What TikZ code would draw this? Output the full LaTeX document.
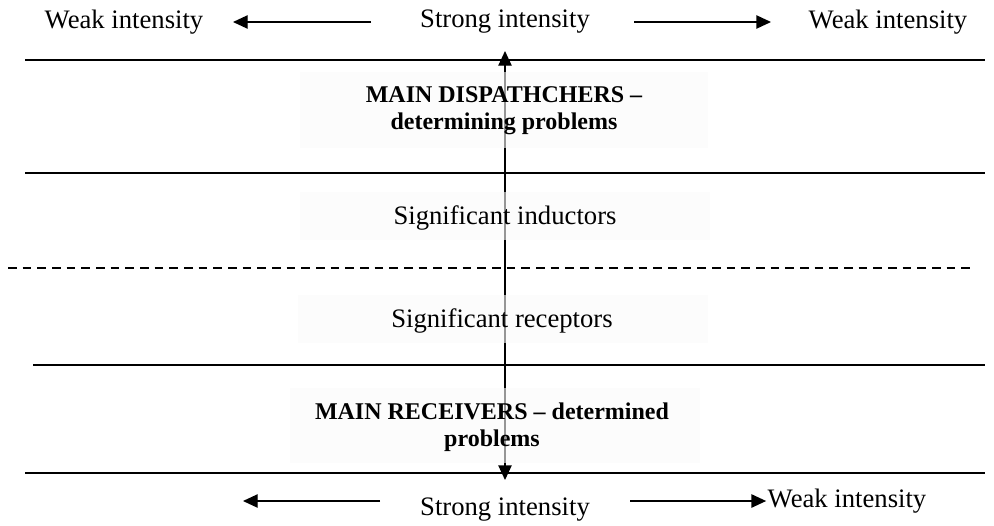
\documentclass[tikz,border=0pt]{standalone}
\usepackage{fontspec}
\setmainfont{Liberation Serif}
\usetikzlibrary{arrows.meta}
\tikzset{
	lbl/.style={inner sep=1pt, font=\fontsize{20}{22.5}\selectfont},
	lblb/.style={inner sep=1pt, align=center, font=\fontsize{18}{20}\selectfont\bfseries},
	band/.style={fill=black!2, fill opacity=0.6, draw=none},
	sep/.style={line width=1.2pt},
	sepd/.style={line width=0.9pt, dash pattern=on 6.5pt off 4.5pt},
	intens/.style={-{Triangle[length=11pt,width=10pt]}, line width=1pt},
	axis/.style={{Triangle[length=11pt,width=10pt]}-{Triangle[length=11pt,width=10pt]}, line width=1pt},
	}
\begin{document}
\begin{tikzpicture}[x=0.75pt,y=-0.75pt]
\useasboundingbox (0,0) rectangle (994,525);
%LINEE
\draw[sep] (25,60) -- (985,60);
\draw[sep] (25,173) -- (985,173);
\draw[sepd] (8,268) -- (970,268);
\draw[sep] (33,365) -- (985,365);
\draw[sep] (25,473) -- (985,473);
%ASSE VERTICALE
\coordinate (atop) at (505,51);
\coordinate (abot) at (505,480);
\draw[axis] (abot) -- (atop);
%FASCE
\fill[band] (300,72) rectangle (708,148);
\fill[band] (300,192) rectangle (710,240);
\fill[band] (298,295) rectangle (708,343);
\fill[band] (290,388) rectangle (700,463);
%NODI
\node[lblb] (disp) at (504,111) {MAIN DISPATHCHERS --\\determining problems};
\node[lbl] (ind) at (505,218) {Significant inductors};
\node[lbl] (rec) at (502,321) {Significant receptors};
\node[lblb] (recv) at (492,427) {MAIN RECEIVERS -- determined\\problems};
\node[lbl] (tweakl) at (124,22) {Weak intensity};
\node[lbl] (tstrong) at (505,22) {Strong intensity};
\node[lbl] (tweakr) at (888,22) {Weak intensity};
\node[lbl] (bstrong) at (505,510) {Strong intensity};
\node[lbl] (bweak) at (847,501) {Weak intensity};
%FRECCE
\coordinate (tl1) at (371,22);
\coordinate (tl2) at (233,22);
\coordinate (tr1) at (634,22);
\coordinate (tr2) at (771,22);
\coordinate (bl1) at (380,501);
\coordinate (bl2) at (243,501);
\coordinate (br1) at (630,501);
\draw[intens] (tl1) -- (tl2);
\draw[intens] (tr1) -- (tr2);
\draw[intens] (bl1) -- (bl2);
\draw[intens] (br1) -- (bweak.west);
\end{tikzpicture}
\end{document}
